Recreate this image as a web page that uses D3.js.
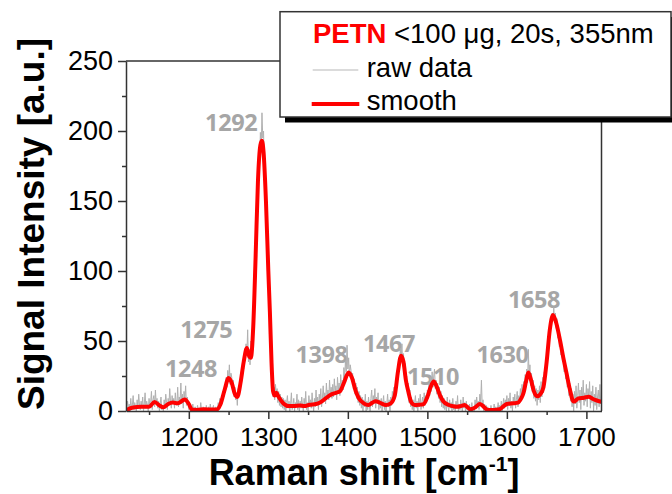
<!DOCTYPE html>
<html>
<head>
<meta charset="utf-8">
<script src="https://cdnjs.cloudflare.com/ajax/libs/d3/7.8.5/d3.min.js"></script>
<style>
  body { margin: 0; background: #fff; }
  svg { display: block; }
</style>
</head>
<body>
<div id="chart"></div>
<script>
// raw spectrum, one reading per cm-1 from 1121 to 1720
const rawShift = d3.range(1121, 1721);
const rawIntensity = [
  0, 3, 7, 1, 5, 0, 9, 2, 4, 11, 1, 6, 3, 0, 8, 2, 12, 4, 1, 7,
  3, 10, 0, 5, 13, 2, 7, 4, 0, 9, 3, 6, 14, 1, 8, 11, 3, 15, 5, 9,
  2, 7, 0, 5, 10, 1, 4, 0, 8, 3, 12, 6, 1, 9, 4, 16, 7, 2, 11, 5,
  9, 2, 13, 6, 4, 17, 3, 10, 7, 20, 5, 12, 2, 14, 8, 18, 4, 10, 6, 1,
  4, 0, 2, 0, 5, 1, 0, 3, 0, 1, 4, 0, 2, 0, 6, 1, 0, 3, 0, 2,
  0, 4, 1, 0, 3, 0, 5, 1, 0, 2, 4, 0, 1, 3, 0, 2, 6, 3, 9, 5,
  8, 5, 14, 10, 18, 13, 24, 17, 29, 21, 33, 19, 27, 24, 15, 22, 10, 17, 8, 13,
  4, 16, 11, 21, 17, 28, 23, 36, 30, 42, 37, 48, 40, 58, 35, 44, 33, 50, 41, 56,
  55, 82, 88, 118, 122, 155, 160, 180, 176, 199, 187, 213, 195, 200, 170, 172, 142, 140, 108, 104,
  78, 64, 58, 30, 28, 10, 17, 8, 19, 11, 16, 6, 14, 4, 12, 3, 10, 2, 9, 1,
  8, 0, 6, 11, 2, 7, 0, 5, 13, 1, 4, 9, 0, 6, 3, 12, 1, 8, 0, 7,
  2, 10, 4, 0, 9, 3, 14, 1, 6, 0, 11, 4, 8, 2, 13, 5, 0, 9, 3, 15,
  4, 10, 1, 12, 6, 16, 3, 9, 18, 7, 13, 5, 20, 10, 15, 8, 22, 11, 17, 9,
  19, 10, 23, 13, 18, 8, 24, 14, 20, 11, 26, 17, 22, 15, 31, 24, 36, 28, 47, 30,
  38, 25, 33, 29, 21, 27, 16, 23, 12, 20, 9, 17, 6, 14, 4, 11, 2, 10, 0, 8,
  3, 12, 0, 7, 1, 10, 4, 0, 9, 15, 3, 11, 6, 16, 2, 10, 5, 13, 1, 8,
  2, 9, 0, 6, 11, 1, 7, 0, 5, 12, 3, 8, 0, 10, 4, 14, 6, 17, 9, 20,
  15, 29, 22, 38, 31, 45, 36, 48, 32, 41, 26, 34, 18, 25, 12, 20, 6, 15, 3, 10,
  1, 8, 0, 6, 11, 2, 7, 0, 9, 3, 12, 1, 6, 10, 2, 13, 4, 11, 6, 15,
  9, 20, 11, 24, 14, 28, 17, 25, 30, 16, 22, 12, 20, 9, 17, 6, 14, 3, 11, 2,
  9, 1, 7, 0, 10, 3, 0, 8, 2, 6, 0, 9, 1, 4, 0, 7, 2, 11, 0, 5,
  1, 8, 3, 0, 10, 2, 6, 0, 7, 1, 4, 0, 5, 0, 2, 6, 0, 3, 0, 8,
  2, 10, 4, 7, 1, 12, 6, 22, 3, 8, 0, 5, 1, 4, 0, 3, 0, 2, 0, 4,
  0, 2, 0, 5, 0, 3, 0, 1, 6, 0, 4, 1, 7, 0, 5, 9, 2, 8, 3, 11,
  1, 9, 4, 13, 2, 7, 0, 10, 5, 12, 2, 8, 14, 3, 11, 6, 16, 9, 19, 13,
  21, 12, 26, 17, 30, 20, 44, 24, 33, 18, 27, 14, 22, 9, 18, 7, 16, 4, 15, 8,
  18, 6, 21, 10, 24, 13, 28, 19, 35, 30, 46, 40, 57, 52, 64, 60, 70, 65, 74, 63,
  70, 59, 66, 52, 58, 46, 53, 40, 47, 35, 41, 28, 36, 23, 30, 17, 25, 11, 20, 7,
  16, 3, 12, 0, 14, 5, 18, 2, 11, 20, 6, 15, 1, 17, 8, 22, 4, 13, 7, 19,
  3, 16, 9, 21, 2, 14, 6, 18, 0, 12, 4, 17, 1, 10, 15, 3, 19, 5, 11, 2
];

// smoothed spectrum
const smoothShift = [
  1121, 1130, 1140, 1150, 1157, 1163, 1168, 1174, 1180, 1186, 1195, 1200, 1204, 1210, 1220, 1228, 1235,
  1240, 1245, 1250, 1254, 1258, 1261, 1265, 1269, 1273, 1276, 1278, 1281, 1284, 1287, 1290, 1292, 1294,
  1297, 1300, 1302, 1304, 1306, 1308, 1310, 1313, 1318, 1325, 1332, 1340, 1345, 1352, 1360, 1365, 1372,
  1378, 1385, 1390, 1395, 1401, 1405, 1410, 1414, 1420, 1426, 1431, 1435, 1440, 1448, 1454, 1459, 1463,
  1467, 1470, 1473, 1476, 1480, 1484, 1490, 1495, 1500, 1504, 1508, 1512, 1516, 1520, 1527, 1532, 1537,
  1542, 1547, 1550, 1554, 1560, 1566, 1570, 1575, 1579, 1585, 1591, 1596, 1600, 1608, 1614, 1618, 1621,
  1624, 1627, 1630, 1634, 1638, 1642, 1646, 1650, 1654, 1658, 1662, 1667, 1671, 1675, 1679, 1684, 1690,
  1697, 1703, 1707, 1711, 1716, 1720
];
const smoothIntensity = [
  0.5, 2.5, 3, 3, 6.5, 4, 2.6, 5, 6, 5.5, 8.3, 5, 1, 0.8, 1.2, 1, 1,
  5, 15, 23.5, 20, 12, 10, 20, 35, 45, 39, 38, 60, 110, 165, 190, 193, 185,
  150, 100, 70, 35, 14, 11, 13, 10, 6, 3.5, 3.5, 4, 3.5, 4.5, 5, 6, 9,
  11.5, 13, 14, 20, 27.5, 24, 14, 9, 5.5, 4.3, 6, 7, 6, 4.3, 5.5, 11, 28,
  39.5, 35, 22, 14, 6, 4.3, 4.5, 4.8, 10, 17, 21, 17, 11, 7, 4.3, 3.5, 3,
  3.5, 4.3, 3, 1.2, 2.5, 5, 3.5, 1, 0.7, 0.8, 1.2, 3.5, 5, 5.5, 6, 9, 13,
  21, 27.5, 23, 14, 10.5, 12, 17, 35, 58, 68.6, 63, 50, 38, 27, 16, 6.7, 9,
  9.5, 10.2, 9, 7.9, 7, 6.5
];

// peak annotations (label centre in data units)
const peakNames = ["1248", "1275", "1292", "1398", "1467", "1510", "1630", "1658"];
const peakLabelShift = [1202.8, 1221.9, 1253.3, 1366.9, 1451.8, 1507.2, 1594.6, 1634.2];
const peakLabelIntensity = [24.3, 52.1, 200, 34.3, 42.1, 18.6, 34.3, 73.6];

const xMajor = [1200, 1300, 1400, 1500, 1600, 1700];
const xMinor = [1150, 1250, 1350, 1450, 1550, 1650];
const yMajor = [0, 50, 100, 150, 200, 250];
const yMinor = [25, 75, 125, 175, 225];

const svgWidth = 672, svgHeight = 494;
const margin = {top: 61, right: 70.5, bottom: 83, left: 126};
const width = svgWidth - margin.left - margin.right;
const height = svgHeight - margin.top - margin.bottom;

const svg = d3.select("#chart")
  .append("svg")
  .attr("width", svgWidth)
  .attr("height", svgHeight);

const chartGroup = svg.append("g")
  .attr("transform", `translate(${margin.left}, ${margin.top})`);

const xScale = d3.scaleLinear().domain([1121, 1719]).range([0, width]);
const yScale = d3.scaleLinear().domain([0, 250]).range([height, 0]);

svg.append("defs").append("clipPath").attr("id", "plotClip")
  .append("rect").attr("x", 0).attr("y", -5).attr("width", width).attr("height", height + 5);

const axisColor = "#333";
const tickFont = "'Liberation Sans', Arial, sans-serif";

// peak labels sit under the curves
chartGroup.append("g").selectAll("text")
  .data(peakNames)
  .enter()
  .append("text")
  .attr("x", (d, i) => xScale(peakLabelShift[i]))
  .attr("y", (d, i) => yScale(peakLabelIntensity[i]))
  .attr("text-anchor", "middle")
  .style("font-family", "'Open Sans', Lato, sans-serif")
  .style("font-weight", "bold")
  .style("font-size", "23.5px")
  .style("letter-spacing", "-0.4px")
  .style("fill", "#a6a6a6")
  .text(d => d);

const lines = chartGroup.append("g").attr("clip-path", "url(#plotClip)");

const rawLine = d3.line()
  .x((d, i) => xScale(rawShift[i]))
  .y(d => yScale(d));

lines.append("path")
  .datum(rawIntensity)
  .attr("d", rawLine)
  .attr("fill", "none")
  .attr("stroke", "#b0b0b0")
  .attr("stroke-width", 1);

const smoothLine = d3.line()
  .x((d, i) => xScale(smoothShift[i]))
  .y(d => yScale(d))
  .curve(d3.curveMonotoneX);

lines.append("path")
  .datum(smoothIntensity)
  .attr("d", smoothLine)
  .attr("fill", "none")
  .attr("stroke", "#ff0000")
  .attr("stroke-width", 4)
  .attr("stroke-linejoin", "round");

// frame top and right
chartGroup.append("line")
  .attr("x1", 0).attr("x2", width).attr("y1", 0).attr("y2", 0)
  .attr("stroke", axisColor).attr("stroke-width", 1.5);
chartGroup.append("line")
  .attr("x1", width).attr("x2", width).attr("y1", 0).attr("y2", height)
  .attr("stroke", axisColor).attr("stroke-width", 1.5);

// axes
function styleAxis(sel) {
  sel.selectAll("path, line").attr("stroke", axisColor).attr("stroke-width", 1.5);
  sel.selectAll("text")
    .style("font-family", tickFont)
    .style("font-size", "26px")
    .attr("fill", "#000");
}

const xAxis = chartGroup.append("g")
  .attr("transform", `translate(0, ${height})`)
  .call(d3.axisBottom(xScale).tickValues(xMajor).tickSize(8).tickPadding(9).tickSizeOuter(0).tickFormat(d3.format("d")))
  .call(styleAxis);

chartGroup.append("g")
  .attr("transform", `translate(0, ${height})`)
  .call(d3.axisBottom(xScale).tickValues(xMinor).tickSize(4).tickFormat(""))
  .call(g => g.select(".domain").remove())
  .call(styleAxis);

const yAxis = chartGroup.append("g")
  .call(d3.axisLeft(yScale).tickValues(yMajor).tickSize(8).tickPadding(5).tickSizeOuter(0))
  .call(styleAxis);
yAxis.selectAll("text").style("font-size", "27px");

chartGroup.append("g")
  .call(d3.axisLeft(yScale).tickValues(yMinor).tickSize(4).tickFormat(""))
  .call(g => g.select(".domain").remove())
  .call(styleAxis);

// axis titles
const xTitle = svg.append("text")
  .attr("x", 364)
  .attr("y", 485)
  .attr("text-anchor", "middle")
  .style("font-family", tickFont)
  .style("font-weight", "bold")
  .style("font-size", "36px");
xTitle.append("tspan").text("Raman shift [cm");
xTitle.append("tspan").attr("dy", -14).style("font-size", "21px").text("-1");
xTitle.append("tspan").attr("dy", 14).text("]");

svg.append("text")
  .attr("transform", `translate(44, 224) rotate(-90)`)
  .attr("text-anchor", "middle")
  .style("font-family", tickFont)
  .style("font-weight", "bold")
  .style("font-size", "37px")
  .text("Signal Intensity [a.u.]");

// legend
const legend = svg.append("g");
legend.append("rect")
  .attr("x", 285).attr("y", 17).attr("width", 391).attr("height", 105.5)
  .attr("fill", "#000");
legend.append("rect")
  .attr("x", 280).attr("y", 11.7).attr("width", 391).attr("height", 105.3)
  .attr("fill", "#fff").attr("stroke", axisColor).attr("stroke-width", 1.5);

const legendFont = "27.5px";
const legendTitle = legend.append("text")
  .attr("x", 313).attr("y", 43)
  .style("font-family", tickFont)
  .style("font-size", legendFont);
legendTitle.append("tspan").style("font-weight", "bold").attr("fill", "#ff0000").text("PETN");
legendTitle.append("tspan").attr("fill", "#000").text(" <100 \u03bcg, 20s, 355nm");

legend.append("line")
  .attr("x1", 312.7).attr("x2", 358.3).attr("y1", 70).attr("y2", 70)
  .attr("stroke", "#cfcfcf").attr("stroke-width", 1.5);
legend.append("text")
  .attr("x", 366.7).attr("y", 77)
  .style("font-family", tickFont).style("font-size", legendFont)
  .text("raw data");

legend.append("line")
  .attr("x1", 311.7).attr("x2", 359.3).attr("y1", 104).attr("y2", 104)
  .attr("stroke", "#ff0000").attr("stroke-width", 4);
legend.append("text")
  .attr("x", 366.7).attr("y", 110)
  .style("font-family", tickFont).style("font-size", legendFont)
  .text("smooth");
</script>
</body>
</html>
